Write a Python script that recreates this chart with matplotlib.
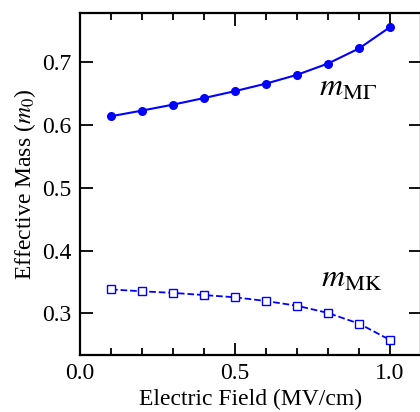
import matplotlib
matplotlib.use('Agg')
import matplotlib.pyplot as plt
import numpy as np

plt.rcParams['font.family'] = ['Liberation Serif', 'DejaVu Serif']
plt.rcParams['mathtext.fontset'] = 'stix'

# Electric field (MV/cm)
field = [0.1, 0.2, 0.3, 0.4, 0.5, 0.6, 0.7, 0.8, 0.9, 1.0]
# effective masses (m0)
m_mg = [0.614, 0.623, 0.6325, 0.643, 0.654, 0.666, 0.680, 0.698, 0.722, 0.756]
m_mk = [0.338, 0.335, 0.3325, 0.329, 0.3255, 0.3195, 0.312, 0.3005, 0.2835, 0.2575]

fig = plt.figure(figsize=(4.2, 4.12), dpi=100)
ax = fig.add_axes([80/420, 57/412, 341/420, 342.3/412])

ax.plot(field, m_mg, '-o', color='#0000ff', lw=1.5, ms=5.5)
ax.plot(field, m_mk, '--s', color='#0000ff', lw=1.3, ms=5.5, mfc='white', mew=1.0)

ax.text(0.772, 0.647, r'$m_{\mathrm{M\Gamma}}$', fontsize=23, va='baseline')
ax.text(0.778, 0.342, r'$m_{\mathrm{MK}}$', fontsize=23, va='baseline')

ax.set_xlim(0, 1.1)
ax.set_ylim(0.2335, 0.779)
ax.set_xticks([0.0, 0.5, 1.0])
ax.set_xticks(np.arange(0.1, 1.05, 0.1), minor=True)
ax.set_yticks([0.3, 0.4, 0.5, 0.6, 0.7])
ax.tick_params(which='both', direction='in', top=True, right=True, labelsize=17, width=1.3)
ax.tick_params(which='major', length=9, pad=6)
ax.tick_params(which='minor', length=5)
for s in ax.spines.values():
    s.set_linewidth(1.6)

ax.set_xlabel('Electric Field (MV/cm)', fontsize=17, labelpad=3)
ax.set_ylabel(r'Effective Mass ($m_0$)', fontsize=17, labelpad=3)

fig.savefig('out.png', dpi=100)
